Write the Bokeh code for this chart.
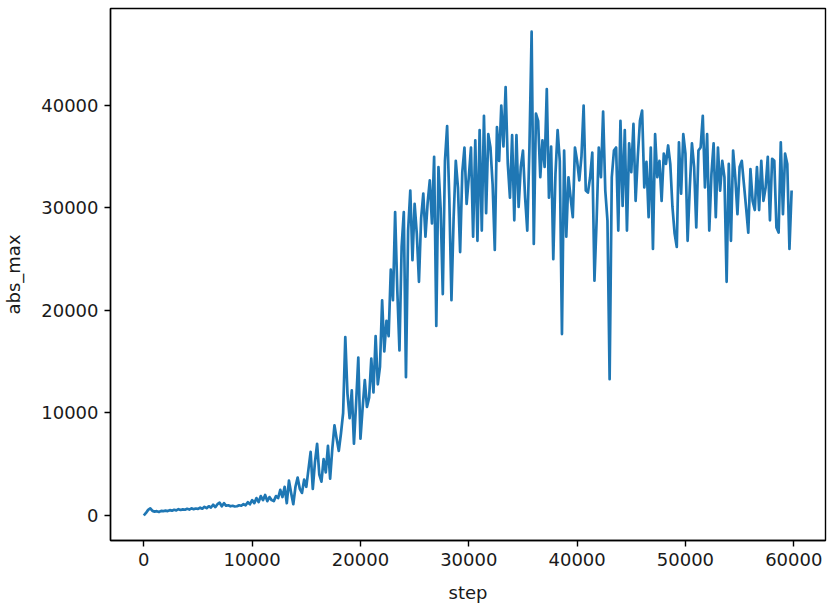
from bokeh.plotting import figure
from bokeh.models import Range1d, FixedTicker
from bokeh.embed import file_html
from bokeh.resources import INLINE

# x positions (training steps), one value every 200 steps
steps = list(range(0, 60000, 200))

# abs_max values, 5 values per 1000 steps
abs_max = [
    0, 250, 550, 700, 450,            # 0
    380, 420, 350, 450, 420,          # 1000
    480, 430, 520, 470, 560,          # 2000
    500, 620, 540, 600, 560,          # 3000
    650, 580, 700, 620, 680,          # 4000
    640, 760, 660, 850, 720,          # 5000
    900, 780, 1050, 820, 1100,        # 6000
    1250, 900, 1200, 950, 1000,       # 7000
    900, 950, 880, 900, 1000,         # 8000
    950, 1100, 1000, 1300, 1100,      # 9000
    1500, 1200, 1700, 1300, 1900,     # 10000
    1500, 2000, 1400, 1800, 1500,     # 11000
    1400, 1900, 1700, 2500, 1800,     # 12000
    2800, 1200, 3400, 2200, 1100,     # 13000
    2800, 3700, 2600, 2200, 3500,     # 14000
    2800, 4500, 6200, 2600, 5200,     # 15000
    7000, 4000, 3300, 5500, 4200,     # 16000
    6800, 3600, 6500, 8800, 7500,     # 17000
    6300, 8000, 10000, 17400, 11900,  # 18000
    9500, 12200, 7000, 11000, 15400,  # 19000
    7500, 10500, 13200, 10600, 11500, # 20000
    15300, 12000, 17500, 12800, 14500,# 21000
    21000, 16000, 19000, 17500, 24000,# 22000
    21000, 29600, 22000, 16100, 26200,# 23000
    29600, 13500, 27800, 31700, 24900,# 24000
    30400, 27500, 22800, 29000, 31400,# 25000
    27200, 30500, 32700, 28500, 35000,# 26000
    18500, 34000, 30000, 21600, 34600,# 27000
    38000, 31000, 21000, 29000, 34600,# 28000
    32000, 25700, 33500, 35900, 30400,# 29000
    33000, 35900, 27200, 36600, 26800,# 30000
    37600, 27800, 39000, 29500, 37200,# 31000
    35900, 32300, 25900, 37900, 34600,# 32000
    40000, 36000, 41800, 34300, 31000,# 33000
    37100, 28800, 37100, 30100, 34000,# 34000
    35600, 31000, 27800, 36000, 47200,# 35000
    26500, 39200, 38500, 33000, 36600,# 36000
    34000, 41600, 31000, 36000, 25000,# 37000
    33300, 37600, 34600, 17700, 35600,# 38000
    27200, 33000, 31000, 29100, 35900,# 39000
    34600, 32700, 35000, 40000, 31700,# 40000
    31500, 33000, 35400, 22900, 28800,# 41000
    35900, 33000, 39400, 31700, 28800,# 42000
    13300, 33000, 35600, 35900, 27800,# 43000
    38500, 30200, 37600, 27800, 36300,# 44000
    33500, 38200, 30700, 35000, 38500,# 45000
    39500, 32000, 34500, 29100, 35900,# 46000
    26000, 37200, 33000, 34600, 30700,# 47000
    35300, 34300, 36100, 34300, 30100,# 48000
    27500, 26200, 36400, 31400, 37200,# 49000
    35300, 26800, 32000, 36300, 34000,# 50000
    28100, 35600, 35900, 39000, 32000,# 51000
    37200, 27800, 33300, 36300, 29100,# 52000
    35900, 31700, 34600, 33000, 22800,# 53000
    34300, 26800, 35600, 33000, 29400,# 54000
    34000, 34600, 32300, 30000, 27600,# 55000
    33800, 30700, 29800, 34000, 29800,# 56000
    34600, 30700, 32000, 35000, 28800,# 57000
    34800, 34600, 28100, 27600, 36400,# 58000
    29400, 35300, 34300, 26000, 31700,# 59000
]
assert len(steps) == len(abs_max)

x_ticks = [0, 10000, 20000, 30000, 40000, 50000, 60000]
y_ticks = [0, 10000, 20000, 30000, 40000]

p = figure(width=834, height=608, output_backend="svg", toolbar_location=None,
           x_range=Range1d(-3074, 62928), y_range=Range1d(-2439, 49463),
           min_border_left=110, min_border_right=9, min_border_top=8,
           min_border_bottom=68, background_fill_color="white",
           border_fill_color="white")

p.line(steps, abs_max, line_color="#1f77b4", line_width=2.7, line_join="round")

p.xgrid.visible = False
p.ygrid.visible = False
p.outline_line_color = "black"
p.outline_line_width = 1.4
p.outline_line_alpha = 1.0

p.xaxis.ticker = FixedTicker(ticks=x_ticks)
p.yaxis.ticker = FixedTicker(ticks=y_ticks)
p.xaxis.axis_label = "step"
p.yaxis.axis_label = "abs_max"

for ax in (p.xaxis, p.yaxis):
    ax.axis_line_color = "black"
    ax.axis_line_width = 1.4
    ax.major_tick_line_color = "black"
    ax.major_tick_line_width = 1.4
    ax.major_tick_out = 6
    ax.major_tick_in = 0
    ax.minor_tick_out = 0
    ax.minor_tick_in = 0
    ax.major_label_text_font = "DejaVu Sans"
    ax.major_label_text_font_size = "18px"
    ax.major_label_text_color = "#1a1a1a"
    ax.axis_label_text_font = "DejaVu Sans"
    ax.axis_label_text_font_size = "18px"
    ax.axis_label_text_font_style = "normal"
    ax.axis_label_text_color = "#1a1a1a"
    ax.major_label_standoff = 6

p.xaxis.axis_label_standoff = 13
p.yaxis.axis_label_standoff = 14

open("out.html", "w").write(file_html(p, INLINE))
